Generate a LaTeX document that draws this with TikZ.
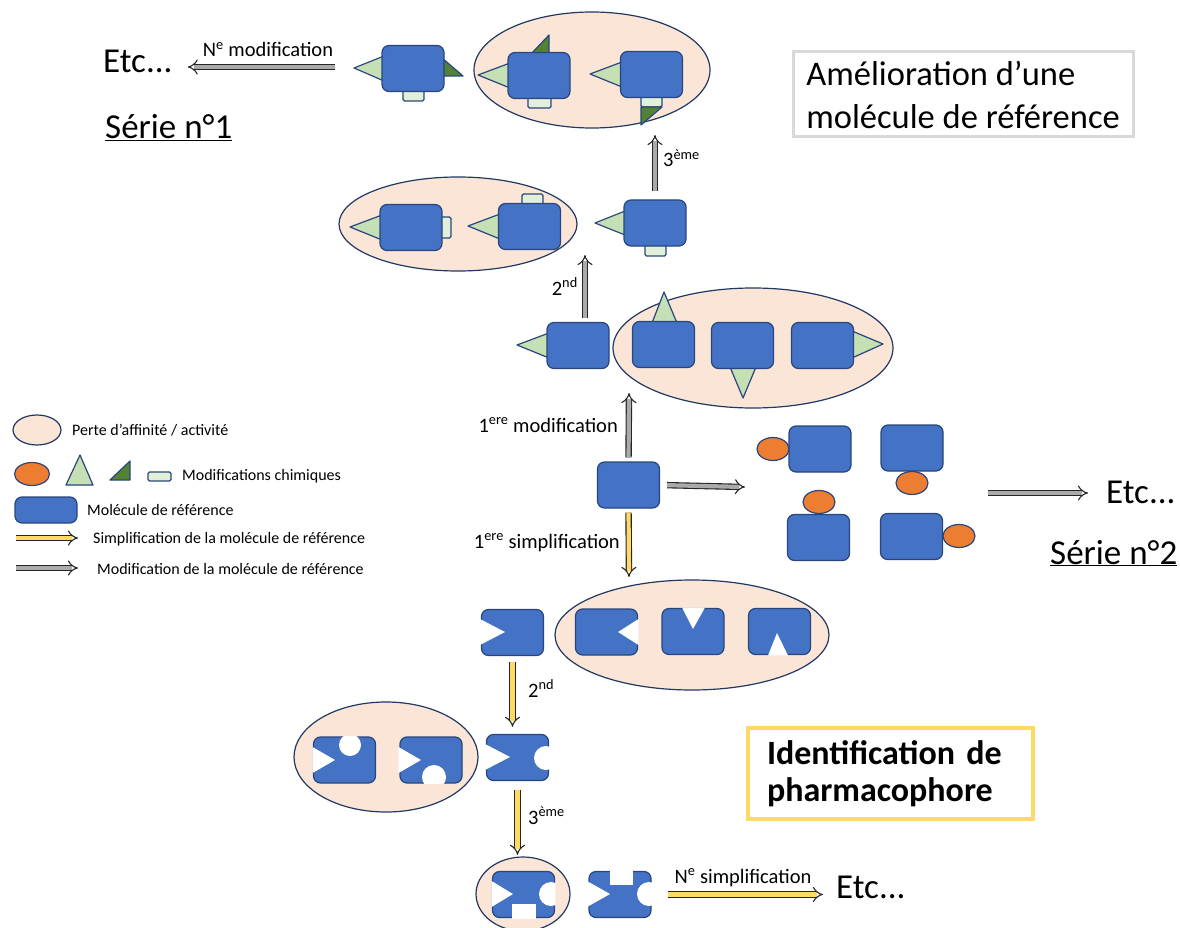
\documentclass[tikz,border=0pt]{standalone}
\usepackage{fontspec}
\setmainfont{Carlito}
\usepackage{tikz}
\usetikzlibrary{arrows.meta,positioning,shapes}
\definecolor{molblue}{RGB}{68,114,196}
\definecolor{molline}{RGB}{40,70,125}
\definecolor{lightgr}{RGB}{197,224,180}
\definecolor{darkgr}{RGB}{84,130,53}
\definecolor{tabgr}{RGB}{226,240,217}
\definecolor{orangegp}{RGB}{237,125,49}
\definecolor{peach}{RGB}{251,229,214}
\definecolor{ellline}{RGB}{32,56,100}
\definecolor{simpyel}{RGB}{255,217,102}
\definecolor{modgray}{RGB}{170,170,170}
\definecolor{boxgray}{RGB}{217,217,217}

\begin{document}
\begin{tikzpicture}[x=1pt,y=-1pt]
    \tikzset{
      mol/.style={draw=molline,fill=molblue,line width=1.2pt,rounded corners=7pt,minimum width=62pt,minimum height=46pt,inner sep=0pt},
      loss/.style={ellipse,draw=ellline,fill=peach,line width=1.2pt,inner sep=0pt},
      lgtri/.style={draw=molline,fill=lightgr,line width=1.2pt,line join=round},
      dgtri/.style={draw=molline,fill=darkgr,line width=1.2pt,line join=round},
      tabmod/.style={draw=molline,fill=tabgr,line width=1.2pt,rounded corners=1.5pt},
      grp/.style={ellipse,draw=molline,fill=orangegp,line width=1.2pt,minimum width=32pt,minimum height=23pt,inner sep=0pt},
      modarrow/.style={draw=black!85,double=modgray,double distance=4.2pt,line width=1.1pt,-{Implies[scale=1.4]}},
      simparrow/.style={draw=black!85,double=simpyel,double distance=4.2pt,line width=1.1pt,-{Implies[scale=1.4]}},
      bigtxt/.style={font=\fontsize{35}{41}\selectfont,inner sep=0pt},
      lab/.style={font=\fontsize{20.5}{24}\selectfont,inner sep=0pt},
      leg/.style={font=\fontsize{16}{18}\selectfont,anchor=west,inner sep=0pt}
    }
    \useasboundingbox (0,0) rectangle (1180,928);

    % zones de perte d'activite
    \node[loss,minimum width=236,minimum height=116] (lossA) at (592,70) {};
    \node[loss,minimum width=238,minimum height=94] (lossB) at (458,224) {};
    \node[loss,minimum width=280,minimum height=120] (lossC) at (753,348) {};
    \node[loss,minimum width=274,minimum height=110] (lossD) at (692,635) {};
    \node[loss,minimum width=184,minimum height=110] (lossE) at (386,757) {};
    \node[loss,minimum width=94,minimum height=74] (lossF) at (523,894) {};

    % serie 1 : modifications
    \filldraw[lgtri] (354,68) -- (384,56) -- (384,81) -- cycle;
    \filldraw[dgtri] (442,58) -- (463,76) -- (442,76) -- cycle;
    \filldraw[tabmod] (403,86) rectangle (424,101);
    \node[mol] (molA) at (413,68.5) {};
    \filldraw[lgtri] (478,75) -- (510,63) -- (510,88) -- cycle;
    \filldraw[dgtri] (531,54) -- (549,35) -- (549,54) -- cycle;
    \filldraw[tabmod] (528,95) rectangle (551,108);
    \node[mol] (molB) at (539,75.5) {};
    \filldraw[lgtri] (590,74) -- (622,62) -- (622,87) -- cycle;
    \filldraw[tabmod] (641,94) rectangle (662,107);
    \filldraw[dgtri] (641,107) -- (641,125) -- (662,107) -- cycle;
    \node[mol] (molC) at (651.5,74.5) {};

    \filldraw[lgtri] (350,227) -- (382,215) -- (382,240) -- cycle;
    \filldraw[tabmod] (438,217) rectangle (451,238);
    \node[mol] (molD) at (411,227.5) {};
    \filldraw[lgtri] (468,226) -- (500,214) -- (500,239) -- cycle;
    \filldraw[tabmod] (522,194) rectangle (543,207);
    \node[mol] (molE) at (529.5,226.5) {};
    \filldraw[lgtri] (595,223) -- (625,211) -- (625,235) -- cycle;
    \filldraw[tabmod] (645,243) rectangle (666,256);
    \node[mol] (molF) at (655,223) {};

    \filldraw[lgtri] (517,345) -- (549,333) -- (549,358) -- cycle;
    \node[mol] (molG) at (578,345.5) {};
    \filldraw[lgtri] (664,292) -- (677,323) -- (652,323) -- cycle;
    \node[mol] (molH) at (663.5,344.5) {};
    \filldraw[lgtri] (743,398) -- (756,367) -- (730,367) -- cycle;
    \node[mol] (molI) at (742.5,345.5) {};
    \filldraw[lgtri] (883,344) -- (852,331) -- (852,358) -- cycle;
    \node[mol] (molJ) at (822.5,345.5) {};

    % molecule de reference
    \node[mol] (molR) at (628.5,485) {};

    % serie 2
    \foreach \n/\x/\y/\gx/\gy in {1/820/449/773/449, 2/912/448/912/483, 3/818.5/537.5/819/502, 4/911.5/536.5/959/536}{
      \node[mol] (ser\n) at (\x,\y) {};
      \node[grp] (grp\n) at (\gx,\gy) {};
    }

    % simplifications
    \node[mol] (molS0) at (512.5,632.5) {};
    \fill[white] (480,619) -- (505,632) -- (480,645) -- cycle;
    \node[mol] (molS1) at (606.5,632) {};
    \fill[white] (638.5,619) -- (618,632) -- (638.5,645) -- cycle;
    \node[mol] (molS2) at (693,631.5) {};
    \fill[white] (682,607.5) -- (693,629) -- (705,607.5) -- cycle;
    \node[mol] (molS3) at (779.5,631.5) {};
    \fill[white] (768,655.5) -- (777,633) -- (788,655.5) -- cycle;

    \node[mol] (molY0) at (517.5,757.5) {};
    \fill[white] (485,744) -- (510,757) -- (485,770) -- cycle;
    \begin{scope}
      \clip (485,733) rectangle (550,782);
      \fill[white] (546,758) circle (12pt);
    \end{scope}
    \node[mol] (molY1) at (344.5,760) {};
    \fill[white] (312.5,747) -- (335,760) -- (312.5,773) -- cycle;
    \begin{scope}
      \clip (312,736.5) rectangle (377,784);
      \fill[white] (350,745) circle (11pt);
    \end{scope}
    \node[mol] (molY2) at (431,760) {};
    \fill[white] (398.5,747) -- (421,760) -- (398.5,773) -- cycle;
    \begin{scope}
      \clip (398,736) rectangle (464,783.5);
      \fill[white] (434,777) circle (12pt);
    \end{scope}

    \node[mol] (molZ1) at (523.5,894.5) {};
    \fill[white] (491.5,881) -- (513,894) -- (491.5,907) -- cycle;
    \begin{scope}
      \clip (491,870) rectangle (555.5,918.5);
      \fill[white] (551,894) circle (12pt);
      \fill[white] (512,904) rectangle (536,920);
    \end{scope}
    \node[mol] (molZ2) at (620,894.5) {};
    \fill[white] (587,881) -- (610,894) -- (587,907) -- cycle;
    \begin{scope}
      \clip (587,870) rectangle (653,919);
      \fill[white] (649,894) circle (12pt);
      \fill[white] (610,869) rectangle (633,885);
    \end{scope}

    % textes
    \node[bigtxt,anchor=base west] (etcA) at (103,73) {Etc...};
    \node[bigtxt,anchor=base west] (etcB) at (1106,503) {Etc...};
    \node[bigtxt,anchor=base west] (etcC) at (836,898) {Etc...};
    \node[bigtxt,anchor=base west] (serA) at (105,139) {\underline{Série n°1}};
    \node[bigtxt,anchor=base west] (serB) at (1050,564) {\underline{Série n°2}};
    \node[draw=boxgray,line width=3pt,minimum width=340,minimum height=85,align=left,font=\fontsize{34.5}{43}\selectfont] (titleBox) at (963,94.5) {Amélioration d’une\\molécule de référence};
    \node[draw=simpyel,line width=4pt,minimum width=285,minimum height=91,text width=247,align=left,inner xsep=19pt,font=\bfseries\fontsize{34}{37}\selectfont] (pharmBox) at (890.5,773.5) {Identification de\\pharmacophore};

    % fleches
    \coordinate (nmodS) at (335,67);
    \draw[modarrow,shorten >=15pt] (nmodS) -- (etcA.east |- nmodS);
    \node[lab,anchor=base] (nmodL) at (268,57) {N\textsuperscript{e} modification};
    \coordinate (a3E) at (655,135);
    \draw[modarrow,shorten <=8pt] (molF.north) -- (a3E);
    \node[lab,anchor=base west] (a3L) at (663,167) {3\textsuperscript{ème}};
    \coordinate (a2E) at (585,255);
    \draw[modarrow,shorten <=4pt] (molG.north -| a2E) -- (a2E);
    \node[lab,anchor=base east] (a2L) at (578,295) {2\textsuperscript{nd}};
    \coordinate (a1E) at (629,393);
    \draw[modarrow,shorten <=4pt] (molR.north) -- (a1E);
    \node[lab,anchor=base east] (a1L) at (618,432) {1\textsuperscript{ere} modification};
    \coordinate (aS2E) at (745,487);
    \draw[modarrow,shorten <=7pt] (molR.east) -- (aS2E);
    \coordinate (aE2S) at (988,493);
    \draw[modarrow,shorten >=18pt] (aE2S) -- (etcB.west |- aE2S);

    \coordinate (s1E) at (629,577);
    \draw[simparrow,shorten <=4pt] (molR.south) -- (s1E);
    \node[lab,anchor=base east] (s1L) at (620,548) {1\textsuperscript{ere} simplification};
    \draw[simparrow,shorten <=6pt,shorten >=7pt] (molS0.south) -- (molS0.south |- molY0.north);
    \node[lab,anchor=base west] (s2L) at (528,697) {2\textsuperscript{nd}};
    \draw[simparrow,shorten <=9pt,shorten >=16pt] (molY0.south) -- (molY0.south |- molZ1.north);
    \node[lab,anchor=base west] (s3L) at (528,824) {3\textsuperscript{ème}};
    \draw[simparrow,shorten <=16pt,shorten >=13pt] (molZ2.east) -- (etcC.west |- molZ2.east);
    \node[lab,anchor=base] (sNL) at (743,883) {N\textsuperscript{e} simplification};

    % legende
    \node[loss,minimum width=48,minimum height=30] (legLoss) at (37,430) {};
    \node[leg] (legLossT) at (72,430) {Perte d’affinité / activité};
    \node[grp,minimum width=35,minimum height=23] (legGrp) at (32,474) {};
    \filldraw[lgtri] (80,455) -- (93,485) -- (66,485) -- cycle;
    \filldraw[dgtri] (110,480) -- (130,461) -- (130,480) -- cycle;
    \filldraw[tabmod] (148,472) rectangle (171,481);
    \node[leg] (legModT) at (182,476) {Modifications chimiques};
    \node[mol,minimum width=62,minimum height=26] (legMol) at (46,510) {};
    \node[leg] (legMolT) at (87,510) {Molécule de référence};
    \coordinate (legS1) at (16,538);
    \coordinate (legS2) at (78,538);
    \draw[simparrow] (legS1) -- (legS2);
    \node[leg] (legST) at (93,539) {Simplification de la molécule de référence};
    \coordinate (legM1) at (16,568);
    \coordinate (legM2) at (78,568);
    \draw[modarrow] (legM1) -- (legM2);
    \node[leg] (legMT) at (97,569) {Modification de la molécule de référence};
  \end{tikzpicture}
\end{document}
